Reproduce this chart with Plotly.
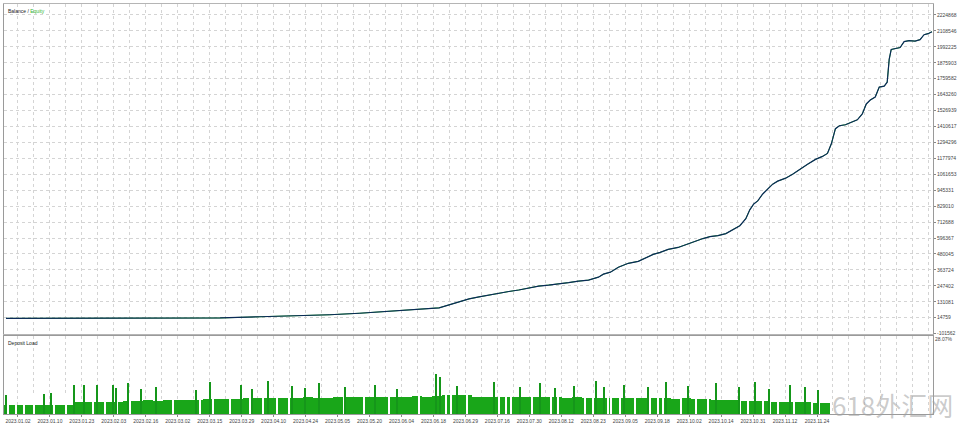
import plotly.graph_objects as go

# ---------------- data ----------------
# balance curve: trade index -> balance
trade_idx = [5, 60, 120, 180, 220, 260, 300, 330, 360, 390, 420, 440, 450, 460, 470, 480, 490, 500,
             510, 520, 530, 540, 550, 560, 570, 580, 590, 600, 605, 612, 620, 625, 630, 640, 648, 655,
             662, 670, 680, 688, 695, 705, 712, 720, 728, 735, 742, 748, 752, 756, 760, 765, 770, 775,
             780, 788, 795, 802, 810, 818, 825, 830, 834, 838, 842, 848, 855, 860, 865, 869, 873, 878,
             882, 887, 890, 892, 894, 898, 903, 907, 912, 918, 923, 927, 931, 935]
balance = [10000, 10200, 10600, 11500, 13000, 22000, 29000, 36500, 47300, 61700, 72600, 87000,
           108700, 130400, 152000, 166500, 181000, 195400, 206200, 217100, 231500, 246000, 253200,
           260400, 271200, 282100, 289300, 311000, 332700, 347100, 383200, 397700, 412100, 426600,
           455500, 477200, 491600, 513300, 527700, 549400, 571100, 592800, 607200, 614400, 628900,
           657800, 686700, 737300, 802300, 845600, 867400, 917900, 954000, 990200, 1011800, 1033500,
           1062400, 1098500, 1134700, 1170800, 1192400, 1214100, 1286400, 1394700, 1416400, 1423600,
           1445400, 1459700, 1503100, 1575400, 1604300, 1626000, 1698200, 1705400, 1734300, 1900500,
           1972700, 1979900, 1987100, 2030500, 2037700, 2034100, 2045000, 2081100, 2088300, 2102800]

y_tickvals = [-101562, 14759, 131081, 247402, 363724, 480045, 596367, 712688, 829010, 945331,
              1061653, 1177974, 1294296, 1410617, 1526939, 1643260, 1759582, 1875903, 1992225,
              2108546, 2224868]
y_ticktext = [str(v) for v in y_tickvals]

# deposit load: base band (10-unit slots), spikes and idle gaps
load_base = [3.5, 3.6,
             3.3, 3.4, 3.4, 3.5, 3.6,
             4.5, 4.6, 4.4, 4.7, 4.6, 4.8,
             5.0, 5.2, 5.1, 5.3, 5.2, 5.4, 5.3,
             5.6, 5.5, 5.8, 5.7, 5.9,
             6.0, 6.1, 5.9, 6.2, 6.0, 6.3, 6.1, 6.2,
             6.4, 6.3, 6.5, 6.4, 6.6, 6.5, 6.4, 6.6, 6.7, 6.5, 6.8,
             7.1, 7.2, 7.0,
             6.6, 6.5, 6.4, 6.6, 6.5, 6.3, 6.4, 6.5, 6.3,
             6.2, 6.3, 6.1, 6.2, 6.0, 6.2, 6.1, 6.0,
             6.0, 5.9, 6.1, 5.8, 5.9, 5.7,
             5.5, 5.4, 5.3, 5.2, 5.1, 5.0,
             4.8, 4.7, 4.6, 4.5, 4.4, 4.3, 4.2]
load_base_x = [8 + 10 * i for i in range(len(load_base))]

spike_x = [5, 43, 50, 73, 83, 97, 113, 116, 128, 141, 156, 196, 210, 241, 252, 268, 292, 305, 320,
           346, 376, 398, 437, 441, 458, 495, 521, 541, 557, 576, 598, 606, 626, 650, 668, 690, 718,
           741, 757, 771, 793, 808, 821]
spike_load = [7.1, 7.5, 7.9, 10.9, 10.9, 10.9, 10.9, 9.7, 11.5, 9.5, 10.2, 9.0, 12.0, 11.0, 9.5,
              12.5, 10.5, 9.8, 11.8, 10.0, 11.0, 9.5, 15.0, 14.0, 10.5, 12.0, 10.0, 11.5, 9.8, 10.5,
              12.5, 10.0, 11.0, 10.0, 12.0, 10.5, 11.5, 10.0, 12.0, 9.5, 11.0, 10.0, 9.0]

gap_x = [7, 15, 23, 33, 53, 65, 93, 105, 117, 130, 173, 200, 213, 230, 250, 263, 277, 289, 345, 365,
         390, 420, 447, 452, 468, 500, 507, 512, 533, 553, 560, 587, 595, 610, 613, 622, 637, 652,
         660, 665, 683, 698, 710, 718, 742, 750, 765, 772, 780, 797, 815, 822]
gap_level = 8.0

date_labels = ["2023.01.02", "2023.01.10", "2023.01.23", "2023.02.03", "2023.02.16", "2023.03.02",
               "2023.03.15", "2023.03.29", "2023.04.10", "2023.04.24", "2023.05.05", "2023.05.20",
               "2023.06.04", "2023.06.18", "2023.06.29", "2023.07.16", "2023.07.30", "2023.08.12",
               "2023.08.23", "2023.09.05", "2023.09.18", "2023.10.02", "2023.10.14", "2023.10.31",
               "2023.11.12", "2023.11.24"]
date_pos = [17 + 32.1 * i for i in range(len(date_labels))]

# ---------------- figure ----------------
GREEN = "#19a619"
NAVY = "#0b2a58"
GRID = "#d4d4d4"
FONT = "Liberation Sans"

fig = go.Figure()

fig.add_trace(go.Scatter(x=trade_idx, y=balance, mode="lines", line=dict(color="#2fb52f", width=1.0),
                         xaxis="x", yaxis="y", hoverinfo="skip", name="Equity"))
fig.add_trace(go.Scatter(x=trade_idx, y=balance, mode="lines", line=dict(color=NAVY, width=1.2),
                         xaxis="x", yaxis="y", name="Balance"))

fig.add_trace(go.Bar(x=load_base_x, y=load_base, width=10, marker=dict(color=GREEN, line=dict(width=0)),
                     xaxis="x2", yaxis="y2", name="Deposit Load"))
fig.add_trace(go.Bar(x=gap_x, y=[gap_level] * len(gap_x), width=1.3,
                     marker=dict(color="white", line=dict(width=0)),
                     xaxis="x2", yaxis="y2", hoverinfo="skip"))
fig.add_trace(go.Bar(x=spike_x, y=spike_load, width=1.3, marker=dict(color="#15961a", line=dict(width=0)),
                     xaxis="x2", yaxis="y2", name="Deposit Load peak"))

XR = [3, 936]
fig.update_layout(
    width=960, height=427,
    margin=dict(l=3, r=24, t=4, b=9),
    paper_bgcolor="white", plot_bgcolor="white",
    showlegend=False, barmode="overlay", bargap=0,
    font=dict(family=FONT, size=5, color="#333333"),
    xaxis=dict(domain=[0, 1], range=XR, anchor="y", showticklabels=False, ticks="",
               tick0=17, dtick=16.05, showgrid=True, gridcolor=GRID, griddash="dot", gridwidth=1,
               zeroline=False, showline=True, linecolor="#b5b5b5", mirror=True),
    yaxis=dict(domain=[0.1957, 1], range=[-102300, 2305052], side="right", anchor="x",
               tickvals=y_tickvals, ticktext=y_ticktext, ticks="outside", ticklen=2,
               tickcolor="#888", tickfont=dict(size=5, color="#444"),
               showgrid=True, gridcolor=GRID, griddash="dot", zeroline=False,
               showline=True, linecolor="#9a9a9a", mirror=True),
    xaxis2=dict(domain=[0, 1], range=XR, anchor="y2", tickvals=date_pos, ticktext=date_labels,
                ticks="outside", ticklen=2, tickcolor="#888", tickfont=dict(size=5, color="#444"),
                showgrid=True, gridcolor=GRID, griddash="dot",
                minor=dict(tick0=17, dtick=16.05, showgrid=True, gridcolor=GRID, griddash="dot"),
                zeroline=False, showline=True, linecolor="#9a9a9a", mirror=True),
    yaxis2=dict(domain=[0, 0.1908], range=[0, 29.2], side="right", anchor="x2",
                tickvals=[28.07], ticktext=["28.07%"], ticks="", tickfont=dict(size=5, color="#444"),
                showgrid=False, zeroline=False, showline=True, linecolor="#9a9a9a", mirror=True),
)

fig.add_annotation(xref="paper", yref="paper", x=0.002, y=0.995, xanchor="left", yanchor="top",
                   showarrow=False, font=dict(size=5, family=FONT),
                   text="<span style='color:#222'>Balance</span><span style='color:#222'> / </span>"
                        "<span style='color:#2fb52f'>Equity</span>")
fig.add_annotation(xref="paper", yref="paper", x=0.002, y=0.185, xanchor="left", yanchor="top",
                   showarrow=False, font=dict(size=5, family=FONT, color="#222"), text="Deposit Load")
fig.add_annotation(xref="paper", yref="paper", x=1.024, y=0.022, xanchor="right", yanchor="middle",
                   showarrow=False, font=dict(size=26, family="Noto Sans CJK SC", color="rgba(160,160,160,0.55)"),
                   text="618外汇网")

fig.write_html("out.html", config={"displayModeBar": False},
               post_script="document.body.style.margin='0px';document.body.style.padding='0px';")
